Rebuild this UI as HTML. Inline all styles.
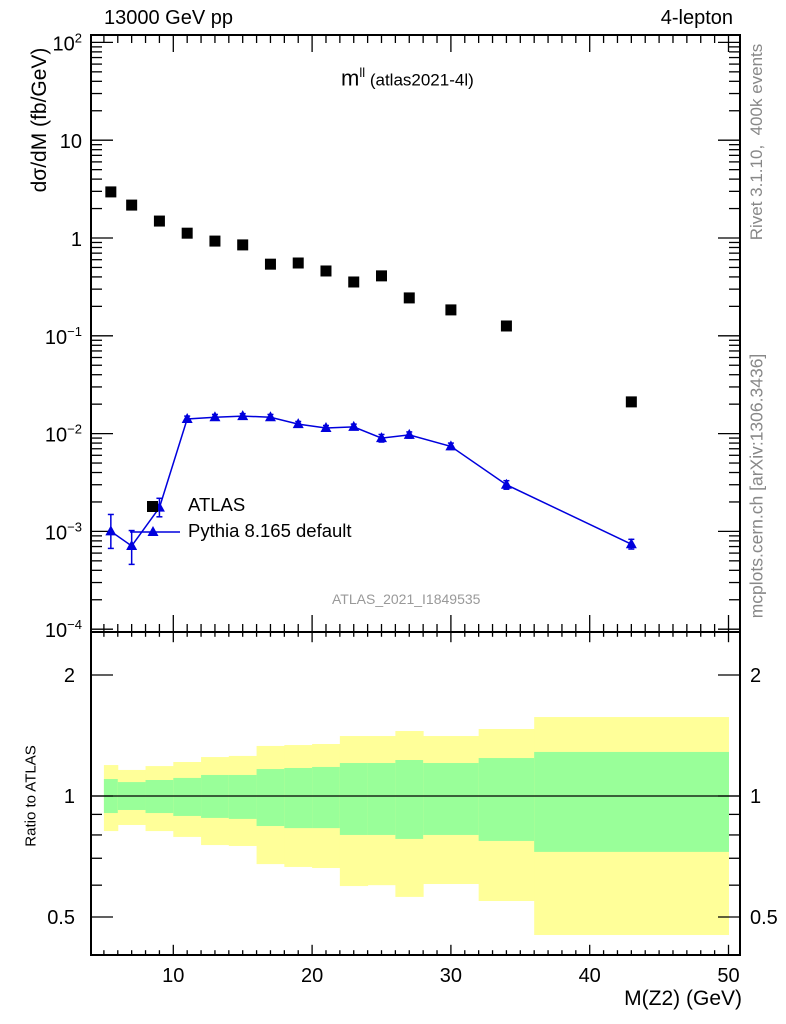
<!DOCTYPE html>
<html><head><meta charset="utf-8"><style>
body{margin:0;background:#fff;}
svg{display:block;font-family:"Liberation Sans",sans-serif;}
</style></head><body>
<svg id="c" width="786" height="1024" viewBox="0 0 786 1024"></svg>
<script>
const binEdges=[5,6,8,10,12,14,16,18,20,22,24,26,28,32,36,50];
const dataX=[5.5,7,9,11,13,15,17,19,21,23,25,27,30,34,43];
const atlasY=[2.96,2.17,1.49,1.12,0.93,0.85,0.54,0.555,0.46,0.355,0.41,0.244,0.184,0.126,0.0211];
const pythiaY=[0.00100,0.00071,0.00175,0.0141,0.0147,0.0151,0.0147,0.0125,0.0114,0.0117,0.0090,0.0097,0.0074,0.0030,0.00074];
const pythiaLo=[0.00067,0.00046,0.00141,0.0131,0.0138,0.0142,0.0138,0.0117,0.0107,0.0110,0.0082,0.0090,0.0069,0.0027,0.00066];
const pythiaHi=[0.00149,0.00102,0.00218,0.0151,0.0157,0.0160,0.0157,0.0133,0.0121,0.0125,0.0098,0.0104,0.0080,0.0033,0.00083];
const yelHi=[1.194,1.161,1.187,1.215,1.250,1.258,1.332,1.339,1.347,1.410,1.410,1.451,1.410,1.468,1.572];
const grnHi=[1.102,1.083,1.096,1.109,1.128,1.128,1.167,1.174,1.181,1.208,1.208,1.229,1.208,1.243,1.287];
const grnLo=[0.907,0.923,0.907,0.892,0.882,0.877,0.842,0.832,0.832,0.800,0.800,0.782,0.800,0.773,0.726];
const yelLo=[0.818,0.847,0.818,0.791,0.755,0.751,0.677,0.666,0.662,0.597,0.600,0.561,0.604,0.548,0.451];
const xTicks=[10,20,30,40,50];
const yTickLabels=["10<tspan font-size='13' dy='-8'>2</tspan>","10","1","10<tspan font-size='13' dy='-8'>−1</tspan>","10<tspan font-size='13' dy='-8'>−2</tspan>","10<tspan font-size='13' dy='-8'>−3</tspan>","10<tspan font-size='13' dy='-8'>−4</tspan>"];
const yTickExp=[2,1,0,-1,-2,-3,-4];
const rTicks=[2,1,0.5];

const L=91,R=740,T=35,MB=632,RB=955;
const X=v=>34.5+13.88*v;
const Y=v=>238-97.8*Math.log10(v);
const RY=v=>796-121*Math.log2(v);
const svg=document.getElementById('c');
const NS='http://www.w3.org/2000/svg';
function el(tag,attrs,parent){const e=document.createElementNS(NS,tag);for(const k in attrs)e.setAttribute(k,attrs[k]);(parent||svg).appendChild(e);return e;}

const bands=el('g',{});


for(let i=0;i<dataX.length;i++){
  const x0=X(binEdges[i]),x1=X(binEdges[i+1]);
  const y=el('rect',{x:x0,y:RY(yelHi[i]),width:x1-x0+0.5,height:RY(yelLo[i])-RY(yelHi[i]),fill:'#ffff99'},bands);
  
  
  const g=el('rect',{x:x0,y:RY(grnHi[i]),width:x1-x0+0.5,height:RY(grnLo[i])-RY(grnHi[i]),fill:'#99ff99'},bands);
  
  
}
el('line',{x1:L,x2:R,y1:RY(1),y2:RY(1),stroke:'#000','stroke-width':1.2});

el('rect',{x:L,y:T,width:R-L,height:MB-T,fill:'none',stroke:'#000','stroke-width':2});
el('rect',{x:L,y:MB,width:R-L,height:RB-MB,fill:'none',stroke:'#000','stroke-width':2});

for(let v=5;v<=50;v++){
  const maj=v%10===0, x=X(v);
  const l=maj?17:8;
  el('line',{x1:x,x2:x,y1:T,y2:T+l,stroke:'#000','stroke-width':1.3});
  el('line',{x1:x,x2:x,y1:MB,y2:MB-l,stroke:'#000','stroke-width':1.3});
  el('line',{x1:x,x2:x,y1:MB,y2:MB+l*0.6,stroke:'#000','stroke-width':1.3});
  el('line',{x1:x,x2:x,y1:RB,y2:RB-l*0.6,stroke:'#000','stroke-width':1.3});
}
xTicks.forEach(v=>{const t=el('text',{x:X(v),y:982,'text-anchor':'middle','font-size':20});t.textContent=v;

});

for(let e=-4;e<=2;e++){
  for(let m=1;m<10;m++){
    const v=m*Math.pow(10,e);if(v>100.5)break;
    const y=Y(v);if(y<T||y>MB)continue;
    const l=m===1?22:11;
    el('line',{x1:L,x2:L+l,y1:y,y2:y,stroke:'#000','stroke-width':1.3});
    el('line',{x1:R,x2:R-l,y1:y,y2:y,stroke:'#000','stroke-width':1.3});
  }
}
yTickExp.forEach((e,i)=>{const t=el('text',{x:82,y:Y(Math.pow(10,e))+8,'text-anchor':'end','font-size':20});t.innerHTML=yTickLabels[i];

});

[0.5,0.6,0.7,0.8,0.9,1,2].forEach(v=>{const y=RY(v);const l=(v===1||v===2||v===0.5)?22:11;
el('line',{x1:L,x2:L+l,y1:y,y2:y,stroke:'#000','stroke-width':1.3});
el('line',{x1:R,x2:R-l,y1:y,y2:y,stroke:'#000','stroke-width':1.3});});
rTicks.forEach(v=>{[[75,'end'],[750,'start']].forEach(([x,a])=>{const t=el('text',{x:x,y:RY(v)+7,'text-anchor':a,'font-size':20});t.textContent=v;

});});

atlasY.forEach((v,i)=>{const r=el('rect',{x:X(dataX[i])-5.5,y:Y(v)-5.5,width:11,height:11,fill:'#000'});

});

const pts=dataX.map((x,i)=>X(x)+','+Y(pythiaY[i])).join(' ');
const pl=el('polyline',{points:pts,fill:'none',stroke:'#0000dd','stroke-width':1.5});


pythiaY.forEach((v,i)=>{const x=X(dataX[i]);
  el('line',{x1:x,x2:x,y1:Y(pythiaHi[i]),y2:Y(pythiaLo[i]),stroke:'#0000dd','stroke-width':1.5});
  [pythiaHi[i],pythiaLo[i]].forEach(w=>el('line',{x1:x-3,x2:x+3,y1:Y(w),y2:Y(w),stroke:'#0000dd','stroke-width':1.5}));
  const y=Y(v);
  const t=el('polygon',{points:`${x},${y-6} ${x-5.5},${y+4} ${x+5.5},${y+4}`,fill:'#0000dd'});
  
  
});

el('rect',{x:147,y:501,width:11,height:11,fill:'#000'});
el('line',{x1:130,x2:180,y1:532,y2:532,stroke:'#0000dd','stroke-width':1.5});
el('polygon',{points:'153,526 147.5,536 158.5,536',fill:'#0000dd'});
</script>
<div style="position:absolute;left:0;top:0;width:786px;height:1024px;pointer-events:none;font-family:'Liberation Sans',sans-serif;">
<div style="position:absolute;left:188px;top:494px;font-size:18.5px;">ATLAS</div>
<div style="position:absolute;left:188px;top:520px;font-size:18.5px;">Pythia 8.165 default</div>
<div style="position:absolute;left:104px;top:7px;font-size:20px;">13000 GeV pp</div>
<div style="position:absolute;right:53px;top:7px;font-size:20px;">4-lepton</div>
<div style="position:absolute;left:341px;top:65px;font-size:22px;">m<sup style="font-size:13px">ll</sup><span style="font-size:17px"> (atlas2021-4l)</span></div>
<div style="position:absolute;left:332px;top:591px;font-size:14px;color:#999;">ATLAS_2021_I1849535</div>
<div style="position:absolute;left:40px;top:120px;transform:translate(-50%,-50%) rotate(-90deg);font-size:21px;white-space:nowrap;">dσ/dM (fb/GeV)</div>
<div style="position:absolute;left:31px;top:796px;transform:translate(-50%,-50%) rotate(-90deg);font-size:15px;white-space:nowrap;">Ratio to ATLAS</div>
<div style="position:absolute;left:757px;top:142px;transform:translate(-50%,-50%) rotate(-90deg);font-size:17px;color:#888;white-space:nowrap;">Rivet 3.1.10,&nbsp; 400k events</div>
<div style="position:absolute;left:757px;top:486px;transform:translate(-50%,-50%) rotate(-90deg);font-size:17.5px;color:#888;white-space:nowrap;">mcplots.cern.ch [arXiv:1306.3436]</div>
<div style="position:absolute;right:44px;top:987px;font-size:21px;">M(Z2) (GeV)</div>
</div>
</body></html>
